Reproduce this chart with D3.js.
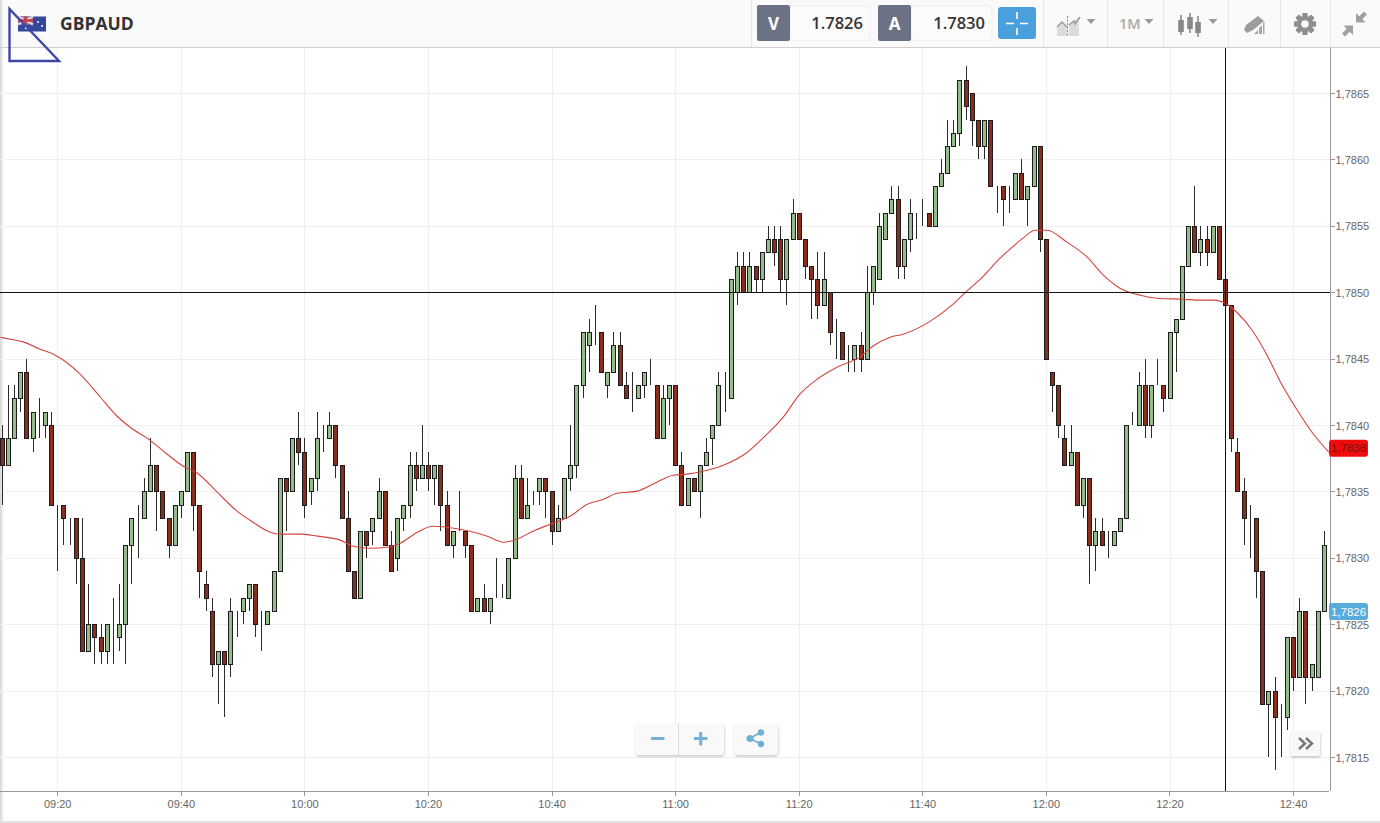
<!DOCTYPE html>
<html lang="en">
<head>
<meta charset="utf-8">
<script src="https://cdn.jsdelivr.net/npm/d3@7/dist/d3.min.js"></script>
<style type="text/css">
html, body { margin: 0; padding: 0; background: #fff; overflow: hidden; }
svg { display: block; }
.axis text { font: 11px "Liberation Sans", Arial, sans-serif; fill: #666; }
.axis path, .axis line { stroke: #999; shape-rendering: crispEdges; }
</style>
</head>
<body>
<script type="text/javascript">

var symbol = "GBPAUD";
var bidPrice = "1.7826";
var askPrice = "1.7830";
var period = "1M";

// first candle of the window, one candle per minute
var startTime = new Date(2017, 0, 1, 9, 11);

// candle values, in pips above 1.7800
var opens = [
  39,37,39,42,44,39,41,40,40,34, 34,33,33,30,23,25,24,23,24,24,
  25,31,33,33,35,37,35,33,31,34, 35,38,34,28,26,22,23,22,26,26,
  27,28,25,25,26,29,36,35,39,38, 35,36,39,39,40,37,33,29,27,32,
  32,33,35,31,30,33,34,37,36,37, 36,37,34,31,32,32,31,26,27,26,
  27,27,27,30,36,33,34,35,36,35, 32,33,36,37,43,46,46,47,43,44,
  46,43,42,42,43,43,43,39,42,43, 37,34,36,35,37,39,40,43,42,50,
  52,50,52,51,53,54,54,51,54,56, 54,52,51,49,50,47,47,45,45,46,
  45,50,51,54,56,57,52,54,56,56, 56,55,58,59,61,62,66,65,63,61,
  63,58,58,57,57,59,57,58,61,54, 44,43,39,37,38,34,36,31,32,31,
  31,32,33,40,40,43,40,43,43,42, 47,48,52,55,53,54,53,55,51,49,
  38,35,32,33,29,19,20,18,18,24, 21,26,21,21,26
];
var highs = [
  40,43,43,44,45,41,42,41,41,34, 34,33,33,33,28,25,25,25,27,28,
  31,33,34,36,39,37,35,33,34,35, 38,38,34,29,27,23,23,27,26,27,
  28,28,26,26,29,36,36,39,41,39, 36,41,40,41,40,37,35,29,32,32,
  33,36,35,32,33,34,38,38,40,38, 37,37,35,32,35,32,31,27,28,27,
  30,28,30,37,37,36,35,36,36,35, 34,36,40,43,47,48,49,47,44,47,
  47,44,44,43,44,45,43,43,43,43, 38,36,36,37,39,40,44,44,51,53,
  53,53,52,53,55,55,55,54,57,56, 54,52,53,53,50,48,47,46,46,47,
  52,52,56,56,58,58,54,57,56,57, 56,58,60,63,63,66,67,65,63,63,
  63,58,58,58,59,60,58,61,61,54, 44,43,40,40,38,36,36,33,33,32,
  32,33,40,41,44,45,43,45,43,47, 48,52,55,58,55,55,55,55,51,49,
  39,36,34,33,29,20,21,19,24,24, 27,26,22,26,32
];
var lows = [
  34,37,39,41,39,38,39,39,34,29, 31,31,28,23,23,22,22,22,22,23,
  22,28,30,33,35,32,33,30,31,33, 35,32,27,26,21,19,18,21,24,25,
  26,24,23,25,26,29,32,35,37,33, 34,35,38,39,36,33,29,27,27,30,
  31,33,31,29,29,32,33,35,36,35, 34,32,31,30,32,30,26,26,26,25,
  27,27,27,30,33,33,34,34,33,31, 32,33,35,36,42,44,46,44,42,44,
  43,42,41,42,42,43,39,39,40,37, 34,34,35,33,37,37,40,41,42,49,
  50,50,50,50,53,52,50,49,54,54, 51,48,48,49,46,45,45,44,44,44,
  45,49,51,54,56,51,51,53,54,55, 55,55,58,59,61,61,63,61,60,60,
  58,56,55,56,57,57,55,58,53,45, 41,39,37,37,34,33,28,29,31,30,
  31,32,33,40,40,39,39,43,41,42, 44,48,52,53,52,52,53,51,49,38,
  35,31,30,27,19,15,14,15,17,20, 21,19,20,21,26
];
var closes = [
  37,39,42,44,39,41,41,41,34,34, 33,33,30,23,25,24,23,25,24,25,
  31,33,33,35,37,35,33,31,34,35, 38,34,29,27,22,23,22,26,26,27,
  28,25,25,26,29,36,35,39,38,34, 36,39,39,40,37,33,29,27,32,31,
  33,35,31,29,33,34,37,36,37,36, 37,34,31,32,32,31,26,27,26,27,
  27,27,30,36,33,34,34,36,35,32, 33,36,37,43,47,47,46,44,44,46,
  43,42,42,43,44,43,39,42,43,37, 34,36,35,37,38,40,43,43,51,52,
  50,52,51,53,54,53,51,54,56,54, 52,51,49,51,47,47,45,45,46,45,
  50,52,55,56,57,52,54,56,56,56, 55,58,59,61,62,66,64,63,61,63,
  58,58,57,57,59,57,58,61,54,45, 43,40,37,38,34,36,31,32,31,31,
  32,33,40,40,43,40,43,43,42,47, 48,52,55,53,54,53,55,51,49,39,
  35,33,32,29,19,20,18,18,24,21, 26,21,22,26,31
];

// moving average: minutes after startTime and pips above 1.7800
var maMinutes = [
  -0.3,1.3,3.4,6.1,8.3,11,12.6,15.9,18.6,20.7,23.9,26.7,29.3,31.6,34.8,38,40.6,43,45,48.2,
  51,54.7,56.8,59.5,62.3,64.4,67.2,69.7,72,75.7,78.5,81.1,83.3,85.9,88.7,91.9,94.7,97.3,99.5,102.8,
  105.3,108.6,110.8,113.4,116.7,120.6,123.1,126.4,129.1,131.9,135.1,138.8,140.9,143.7,145.8,149.7,153.9,156.1,158.3,161.5,
  163.1,165.2,167.2,169.1,172.3,175.6,178.2,180.9,184.2,186.9,191.1,193.9,196,198.2,199.8,202.4,204.7,206.8,209.5,212.1,214.7
];
var maValues = [
  46.61,46.46,46.26,45.71,45.33,44.50,43.83,42.09,40.66,39.83,38.86,37.80,36.90,36.37,34.94,33.51,32.68,32.00,31.78,31.78,
  31.63,31.33,30.87,30.72,30.80,31.10,31.93,32.38,32.30,32.00,31.63,31.17,31.40,32.00,32.53,33.13,34.04,34.41,34.86,35.02,
  35.54,36.22,36.30,36.52,36.97,37.95,39.01,40.59,42.32,43.45,44.35,45.11,45.93,46.61,46.84,47.67,49.10,50.08,50.98,52.56,
  53.24,54.07,54.67,54.67,53.77,52.64,51.28,50.30,49.77,49.55,49.47,49.40,49.40,49.10,48.49,47.06,45.26,43.30,41.19,39.38,37.95
];

var priceTicks = [1.7815,1.7820,1.7825,1.7830,1.7835,1.7840,1.7845,1.7850,1.7855,1.7860,1.7865];
var timeTicks = ["09:20","09:40","10:00","10:20","10:40","11:00","11:20","11:40","12:00","12:20","12:40"];
var crosshairPrice = 1.7850;
var crosshairTime = "12:29";
var maLastLabel = "1,7838";
var lastPriceLabel = "1,7826";
var lastPrice = 1.7826;
var maLastPrice = 1.7838;

var width = 1380;
var height = 823;
var plotRight = 1330;
var plotTop = 47;
var plotBottom = 791;

function pipToPrice(p) { return 1.78 + p / 10000; }
function minuteToTime(m) { return new Date(startTime.getTime() + m * 60000); }
function labelToTime(s) {
	var parts = s.split(":");
	return new Date(2017, 0, 1, +parts[0], +parts[1]);
}
function commaPrice(v) { return d3.format(".4f")(v).replace(".", ","); }

var x = d3.scaleTime()
	.domain([minuteToTime(0), minuteToTime(214)])
	.range([2.2, 1324.5]);
var y = d3.scaleLinear()
	.domain([1.7815, 1.7865])
	.range([757, 93]);

var candles = opens.map(function(o, i) {
	return { i: i, open: o, high: highs[i], low: lows[i], close: closes[i] };
});

var svg = d3.select("body").append("svg")
	.attr("width", width)
	.attr("height", height);

var defs = svg.append("defs");
defs.append("clipPath").attr("id", "plot")
	.append("rect")
	.attr("x", 0).attr("y", plotTop)
	.attr("width", plotRight).attr("height", plotBottom - plotTop);
var edge = defs.append("linearGradient").attr("id", "edge");
edge.append("stop").attr("offset", "0%").attr("stop-color", "#d4d4d4");
edge.append("stop").attr("offset", "100%").attr("stop-color", "#ffffff");
var shadow = defs.append("filter").attr("id", "btnShadow")
	.attr("x", "-20%").attr("y", "-20%").attr("width", "140%").attr("height", "150%");
shadow.append("feDropShadow")
	.attr("dx", 0.5).attr("dy", 1.5).attr("stdDeviation", 1.2)
	.attr("flood-color", "#000").attr("flood-opacity", 0.22);

svg.append("rect").attr("width", width).attr("height", height).attr("fill", "#fff");

// left edge and page bottom
svg.append("rect").attr("x", 0).attr("y", 0).attr("width", 4).attr("height", height).attr("fill", "url(#edge)");
svg.append("rect").attr("x", 0).attr("y", 821).attr("width", width).attr("height", 2).attr("fill", "#e2e2e2");

// grid
var grid = svg.append("g").attr("shape-rendering", "crispEdges");
grid.selectAll(".gy").data(priceTicks).enter().append("line")
	.attr("x1", 0).attr("x2", plotRight)
	.attr("y1", function(d) { return Math.round(y(d)) + 0.5; })
	.attr("y2", function(d) { return Math.round(y(d)) + 0.5; })
	.attr("stroke", "#efefef");
grid.selectAll(".gx").data(timeTicks).enter().append("line")
	.attr("y1", plotTop).attr("y2", plotBottom)
	.attr("x1", function(d) { return Math.floor(x(labelToTime(d))) + 0.5; })
	.attr("x2", function(d) { return Math.floor(x(labelToTime(d))) + 0.5; })
	.attr("stroke", "#efefef");

var plot = svg.append("g").attr("clip-path", "url(#plot)");

// candles
var candle = plot.selectAll(".candle").data(candles).enter().append("g")
	.attr("class", "candle")
	.attr("transform", function(d) {
		return "translate(" + Math.floor(x(minuteToTime(d.i))) + ",0)";
	})
	.attr("shape-rendering", "crispEdges");
candle.append("line")
	.attr("x1", 0.5).attr("x2", 0.5)
	.attr("y1", function(d) { return Math.round(y(pipToPrice(d.high))); })
	.attr("y2", function(d) { return Math.round(y(pipToPrice(d.low))); })
	.attr("stroke", "#2b2b2b");
candle.append("rect")
	.attr("x", -1.5)
	.attr("width", 4)
	.attr("y", function(d) { return Math.round(y(pipToPrice(Math.max(d.open, d.close)))) + 0.5; })
	.attr("height", function(d) {
		return Math.round(y(pipToPrice(Math.min(d.open, d.close)))) - Math.round(y(pipToPrice(Math.max(d.open, d.close))));
	})
	.attr("fill", function(d) { return d.close >= d.open ? "#95bb8b" : "#8c2d1b"; })
	.attr("stroke", "#1c1c1c");

// moving average
var maLine = d3.line()
	.x(function(d) { return x(minuteToTime(d[0])); })
	.y(function(d) { return y(pipToPrice(d[1])); })
	.curve(d3.curveMonotoneX);
plot.append("path")
	.datum(maMinutes.map(function(m, i) { return [m, maValues[i]]; }))
	.attr("d", maLine)
	.attr("fill", "none")
	.attr("stroke", "#d4443f")
	.attr("stroke-width", 1.1);

// axes
var yAxis = d3.axisRight(y)
	.tickValues(priceTicks)
	.tickSize(4)
	.tickPadding(1)
	.tickFormat(commaPrice);
var yG = svg.append("g").attr("class", "axis")
	.attr("transform", "translate(" + (plotRight + 0.5) + ",0)")
	.call(yAxis);
yG.select(".domain").attr("d", "M0," + plotTop + "V" + plotBottom);
yG.selectAll("text").attr("dy", "0.32em").attr("y", 0.5);

var xAxis = d3.axisBottom(x)
	.tickValues(timeTicks.map(labelToTime))
	.tickSize(4)
	.tickPadding(5)
	.tickFormat(d3.timeFormat("%H:%M"));
var xG = svg.append("g").attr("class", "axis")
	.attr("transform", "translate(-0.6," + (plotBottom + 0.5) + ")")
	.call(xAxis);
xG.select(".domain").attr("d", "M0,0H" + plotRight);

// crosshair
svg.append("line")
	.attr("x1", 0).attr("x2", plotRight)
	.attr("y1", Math.round(y(crosshairPrice)) + 0.5)
	.attr("y2", Math.round(y(crosshairPrice)) + 0.5)
	.attr("stroke", "#111").attr("shape-rendering", "crispEdges");
svg.append("line")
	.attr("x1", Math.floor(x(labelToTime(crosshairTime))) + 0.5)
	.attr("x2", Math.floor(x(labelToTime(crosshairTime))) + 0.5)
	.attr("y1", plotTop - 2).attr("y2", plotBottom)
	.attr("stroke", "#111").attr("shape-rendering", "crispEdges");

// price tags on the axis, offset is how far the tag sits from its price
function priceTag(price, offset, label, bg, fg) {
	var cy = y(price) + offset;
	svg.append("rect")
		.attr("x", plotRight - 1).attr("y", cy - 8.5)
		.attr("width", 39).attr("height", 17).attr("rx", 3)
		.attr("fill", bg);
	svg.append("text")
		.attr("x", plotRight + 18.5).attr("y", cy + 4.2)
		.attr("text-anchor", "middle")
		.style("font", "11.5px 'Liberation Sans', Arial, sans-serif")
		.attr("fill", fg)
		.text(label);
}
priceTag(maLastPrice, -3.4, maLastLabel, "#f00c0c", "#7a1010");
priceTag(lastPrice, 0.7, lastPriceLabel, "#57acdc", "#fff");

// header
var header = svg.append("g");
header.append("rect").attr("x", 4).attr("width", width - 4).attr("height", 47).attr("fill", "#fafafa");
header.append("rect").attr("y", 47).attr("width", width).attr("height", 1).attr("fill", "#cfcfcf");
[751, 1043, 1107, 1163, 1228, 1280, 1330].forEach(function(sx) {
	header.append("rect").attr("x", sx).attr("y", 0).attr("width", 1).attr("height", 47).attr("fill", "#e6e6e6");
});

// flag
var flag = header.append("g");
flag.append("rect").attr("x", 18).attr("y", 16.5).attr("width", 28).attr("height", 15).attr("fill", "#33489a");
flag.append("rect").attr("x", 18).attr("y", 16.5).attr("width", 15).attr("height", 8).attr("fill", "#8d7f9e");
flag.append("path").attr("d", "M18,16.5L33,24.5M33,16.5L18,24.5").attr("stroke", "#e9d6dc").attr("stroke-width", 2);
flag.append("path").attr("d", "M25.5,16.5V24.5M18,20.5H33").attr("stroke", "#c8384a").attr("stroke-width", 2.4);
flag.append("circle").attr("cx", 38).attr("cy", 22).attr("r", 1).attr("fill", "#fff");
flag.append("circle").attr("cx", 42).attr("cy", 26).attr("r", 1).attr("fill", "#fff");
flag.append("circle").attr("cx", 26).attr("cy", 28).attr("r", 1.2).attr("fill", "#fff");

header.append("text")
	.attr("x", 60).attr("y", 30)
	.style("font", "700 17.5px 'Open Sans', sans-serif")
	.attr("fill", "#333")
	.text(symbol);

// drawn triangle over the logo
svg.append("path")
	.attr("d", "M9.5,9L9.5,61L59,61Z")
	.attr("fill", "none")
	.attr("stroke", "#3f47a6")
	.attr("stroke-width", 2.4);

function quote(bx, tx, letter, value) {
	header.append("rect").attr("x", bx + 33).attr("y", 5.5).attr("width", tx - bx - 33).attr("height", 35)
		.attr("rx", 3).attr("fill", "#fbfbfb").attr("stroke", "#eeeeee");
	header.append("rect").attr("x", bx).attr("y", 5).attr("width", 33).attr("height", 36)
		.attr("rx", 2).attr("fill", "#6c7286");
	header.append("text").attr("x", bx + 16.5).attr("y", 30)
		.attr("text-anchor", "middle")
		.style("font", "700 17px 'Open Sans', sans-serif").attr("fill", "#fff").text(letter);
	header.append("text").attr("x", tx - 7).attr("y", 29)
		.attr("text-anchor", "end")
		.style("font", "600 16.5px 'Open Sans', sans-serif").attr("fill", "#333").text(value);
}
quote(757, 870, "V", bidPrice);
quote(878, 992, "A", askPrice);

// crosshair button
header.append("rect").attr("x", 998).attr("y", 7).attr("width", 38).attr("height", 32).attr("rx", 3).attr("fill", "#4a9fdd");
header.append("path")
	.attr("d", "M1006,23.5H1014M1020,23.5H1028M1017,12V19M1017,28V35")
	.attr("stroke", "#fff").attr("stroke-width", 1.6);

function caret(cx, cy) {
	header.append("path")
		.attr("d", "M" + (cx - 4.5) + "," + cy + "h9l-4.5,5z")
		.attr("fill", "#9a9a9a");
}

// chart compare icon
header.append("path").attr("d", "M1057,36V26L1062,22L1067,26V36Z").attr("fill", "#dcdcdc");
header.append("path").attr("d", "M1069,36V25L1074,21L1079,17V36Z").attr("fill", "#dcdcdc");
header.append("path").attr("d", "M1057,27L1062,22L1067,27M1069,25L1074,21L1075,24L1080,17")
	.attr("fill", "none").attr("stroke", "#999").attr("stroke-width", 1.4);
header.append("line").attr("x1", 1067.5).attr("x2", 1067.5).attr("y1", 16).attr("y2", 36)
	.attr("stroke", "#888").attr("stroke-dasharray", "2,1.5");
caret(1091, 19);

header.append("text").attr("x", 1119).attr("y", 29)
	.style("font", "600 14.5px 'Open Sans', sans-serif").attr("fill", "#a9a9a9").text(period);
caret(1149, 19);

// candle type icon
[[1181, 15, 35, 20, 32], [1190, 13, 33, 17, 29], [1198, 16, 37, 22, 33]].forEach(function(c) {
	header.append("line").attr("x1", c[0]).attr("x2", c[0]).attr("y1", c[1]).attr("y2", c[2])
		.attr("stroke", "#888").attr("stroke-width", 1.6);
	header.append("rect").attr("x", c[0] - 2.8).attr("y", c[3]).attr("width", 5.6).attr("height", c[4] - c[3])
		.attr("fill", "#888");
});
caret(1213, 19);

// pencil icon
header.append("path").attr("d", "M1244,30L1246,25L1258,16L1264,21L1253,30L1247,33Z").attr("fill", "#9d9d9d");
header.append("path").attr("d", "M1254,34L1258,30V34ZM1259,34V28L1262,25V34ZM1263,34V23L1264.5,21.5V34Z").attr("fill", "#a8a8a8");

// gear
var gearTeeth = d3.range(8).map(function(k) { return k * 45; });
var gear = header.append("g").attr("transform", "translate(1305,24)");
gear.selectAll("rect").data(gearTeeth).enter().append("rect")
	.attr("x", -2.5).attr("y", -11).attr("width", 5).attr("height", 22).attr("rx", 1)
	.attr("transform", function(d) { return "rotate(" + d + ")"; })
	.attr("fill", "#8f8f8f");
gear.append("circle").attr("r", 8).attr("fill", "#8f8f8f");
gear.append("circle").attr("r", 3.8).attr("fill", "#fafafa");

// compress arrows
header.append("path").attr("d", "M1356,13V22.5H1365.5L1362.3,19.3L1367,14.5L1364,11.5L1359.3,16.3Z").attr("fill", "#a0a0a0");
header.append("path").attr("d", "M1353,35V25.5H1343.5L1346.7,28.7L1342,33.5L1345,36.5L1349.7,31.7Z").attr("fill", "#a0a0a0");

// zoom and share buttons
var btn = svg.append("g");
btn.append("rect").attr("x", 635).attr("y", 723).attr("width", 89).attr("height", 32).attr("rx", 4)
	.attr("fill", "#f9f9f9").attr("filter", "url(#btnShadow)");
btn.append("rect").attr("x", 678).attr("y", 723).attr("width", 1).attr("height", 32).attr("fill", "#dddddd");
btn.append("path").attr("d", "M651,738.5H664.5").attr("stroke", "#76b1d6").attr("stroke-width", 3);
btn.append("path").attr("d", "M694,738.5H707.5M700.7,732V745.5").attr("stroke", "#76b1d6").attr("stroke-width", 3);
btn.append("rect").attr("x", 734).attr("y", 723).attr("width", 44).attr("height", 32).attr("rx", 4)
	.attr("fill", "#f9f9f9").attr("filter", "url(#btnShadow)");
btn.append("path").attr("d", "M761,732L750,738.5L761,744").attr("fill", "none").attr("stroke", "#6fb0d8").attr("stroke-width", 1.8);
btn.append("circle").attr("cx", 750).attr("cy", 738.5).attr("r", 3.6).attr("fill", "#6fb0d8");
btn.append("circle").attr("cx", 761).attr("cy", 732.5).attr("r", 3.2).attr("fill", "#6fb0d8");
btn.append("circle").attr("cx", 761).attr("cy", 744).attr("r", 3.2).attr("fill", "#6fb0d8");

// scroll to latest button
btn.append("rect").attr("x", 1290).attr("y", 731).attr("width", 30).attr("height", 25).attr("rx", 3)
	.attr("fill", "#f8f8f8").attr("filter", "url(#btnShadow)");
btn.append("path").attr("d", "M1299,738L1305,743.5L1299,749M1306,738L1312,743.5L1306,749")
	.attr("fill", "none").attr("stroke", "#777").attr("stroke-width", 2.4);

</script>
</body>
</html>
